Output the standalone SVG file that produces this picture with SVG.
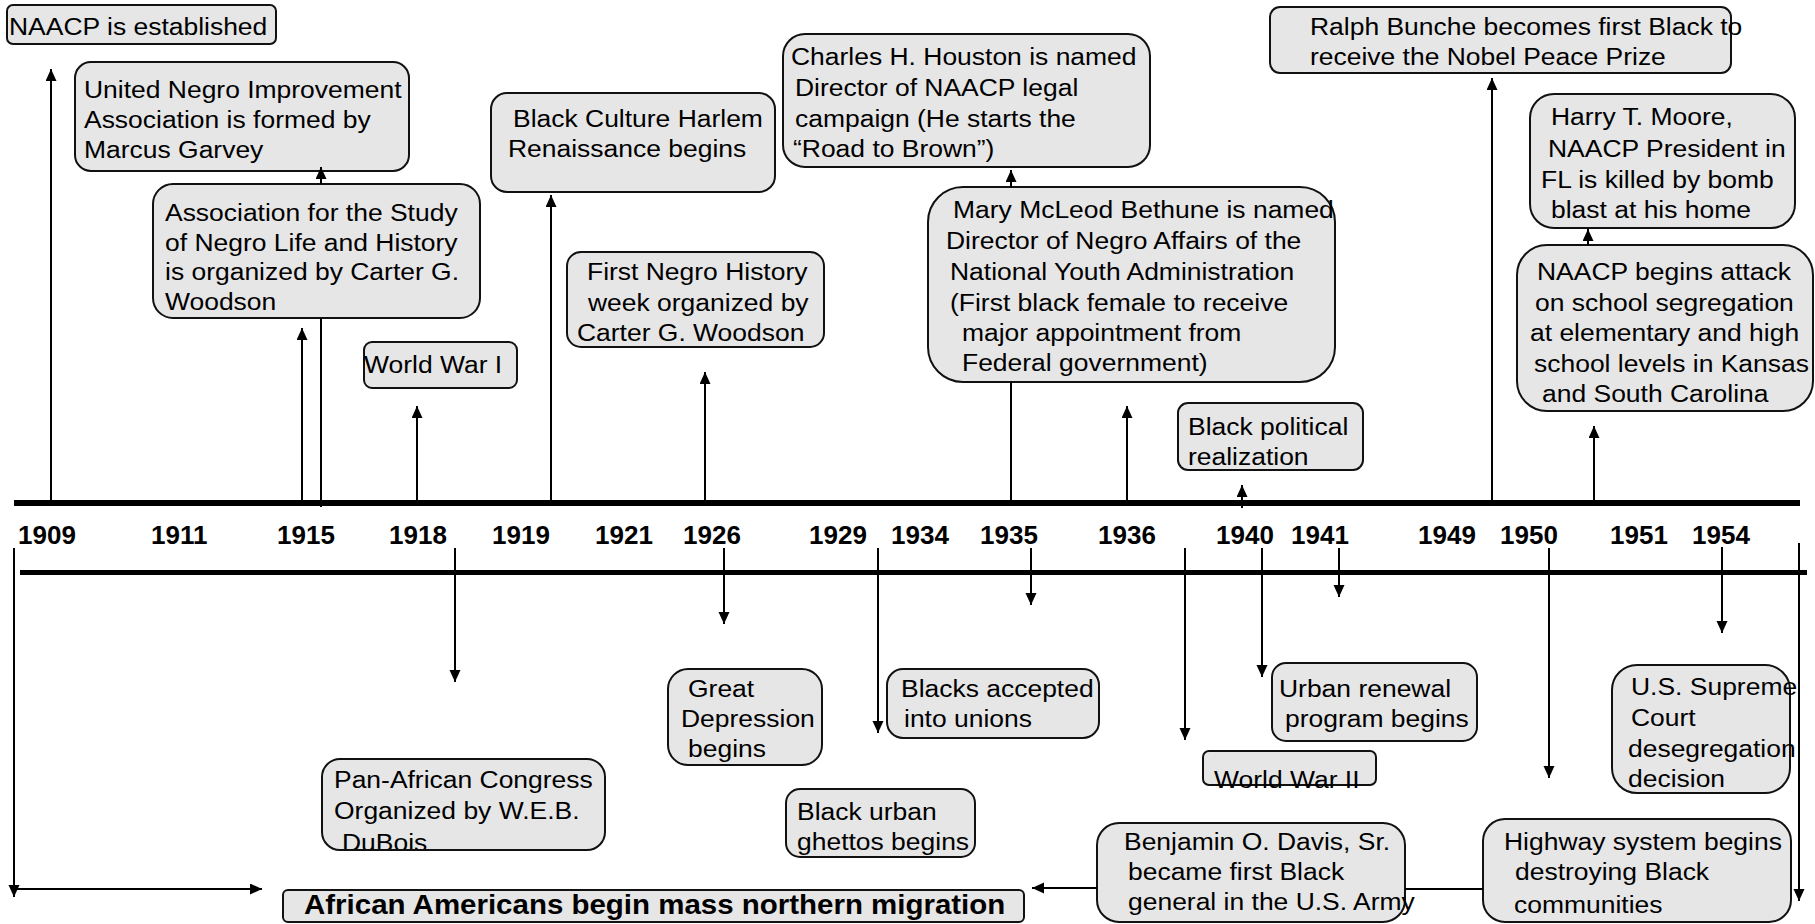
<svg xmlns="http://www.w3.org/2000/svg" width="1815" height="924" viewBox="0 0 1815 924">
<defs>
<marker id="ah" markerUnits="userSpaceOnUse" markerWidth="13" markerHeight="12" refX="12" refY="5.5" orient="auto">
<path d="M0,0 L12,5.5 L0,11 z" fill="#000"/>
</marker>
<clipPath id="clipPan"><rect x="322" y="759" width="283" height="90"/></clipPath>
<style>
.b{fill:#e6e6e6;stroke:#111;stroke-width:2}
.t{font-family:"Liberation Sans",Arial,sans-serif;font-size:24.4px;fill:#000}
.y{font-family:"Liberation Sans",Arial,sans-serif;font-size:26px;font-weight:bold;fill:#000}
.m{font-family:"Liberation Sans",Arial,sans-serif;font-size:26.8px;font-weight:bold;fill:#000}
.c{stroke:#000;stroke-width:2;fill:none}
.a{stroke:#000;stroke-width:2;fill:none;marker-end:url(#ah)}
.ax{stroke:#000;fill:none}
</style>
</defs>
<rect width="1815" height="924" fill="#fff"/>
<g id="axis">
<line class="ax" x1="14" y1="503" x2="1800" y2="503" stroke-width="6"/>
<line class="ax" x1="20" y1="572.5" x2="1807" y2="572.5" stroke-width="5"/>
<text class="y" x="18" y="544">1909</text>
<text class="y" x="151" y="544">1911</text>
<text class="y" x="277" y="544">1915</text>
<text class="y" x="389" y="544">1918</text>
<text class="y" x="492" y="544">1919</text>
<text class="y" x="595" y="544">1921</text>
<text class="y" x="683" y="544">1926</text>
<text class="y" x="809" y="544">1929</text>
<text class="y" x="891" y="544">1934</text>
<text class="y" x="980" y="544">1935</text>
<text class="y" x="1098" y="544">1936</text>
<text class="y" x="1216" y="544">1940</text>
<text class="y" x="1291" y="544">1941</text>
<text class="y" x="1418" y="544">1949</text>
<text class="y" x="1500" y="544">1950</text>
<text class="y" x="1610" y="544">1951</text>
<text class="y" x="1692" y="544">1954</text>
</g>
<g id="n-naacp"><rect class="b" x="7" y="5" width="269" height="39" rx="6"/><text class="t" transform="translate(9,35) scale(1.085,1)">NAACP is established</text></g>
<g id="n-unia"><rect class="b" x="75" y="62" width="334" height="109" rx="16"/><text class="t" transform="translate(84,98) scale(1.085,1)">United Negro Improvement</text><text class="t" transform="translate(84,128) scale(1.085,1)">Association is formed by</text><text class="t" transform="translate(84,158) scale(1.085,1)">Marcus Garvey</text></g>
<g id="n-asnlh"><rect class="b" x="153" y="184" width="327" height="134" rx="20"/><text class="t" transform="translate(165,221) scale(1.085,1)">Association for the Study</text><text class="t" transform="translate(165,251) scale(1.085,1)">of Negro Life and History</text><text class="t" transform="translate(165,280) scale(1.085,1)">is organized by Carter G.</text><text class="t" transform="translate(165,310) scale(1.085,1)">Woodson</text></g>
<g id="n-harlem"><rect class="b" x="491" y="93" width="284" height="99" rx="16"/><text class="t" transform="translate(513,127) scale(1.085,1)">Black Culture Harlem</text><text class="t" transform="translate(508,157) scale(1.085,1)">Renaissance begins</text></g>
<g id="n-history-week"><rect class="b" x="567" y="252" width="257" height="95" rx="14"/><text class="t" transform="translate(587,280) scale(1.085,1)">First Negro History</text><text class="t" transform="translate(588,311) scale(1.085,1)">week organized by</text><text class="t" transform="translate(577,341) scale(1.085,1)">Carter G. Woodson</text></g>
<g id="n-ww1"><rect class="b" x="364" y="342" width="153" height="46" rx="8"/><text class="t" transform="translate(364,373) scale(1.085,1)">World War I</text></g>
<g id="n-houston"><rect class="b" x="783" y="34" width="367" height="133" rx="22"/><text class="t" transform="translate(791,65) scale(1.085,1)">Charles H. Houston is named</text><text class="t" transform="translate(795,96) scale(1.085,1)">Director of NAACP legal</text><text class="t" transform="translate(795,127) scale(1.085,1)">campaign (He starts the</text><text class="t" transform="translate(793,157) scale(1.085,1)">“Road to Brown”)</text></g>
<g id="n-bethune"><rect class="b" x="928" y="187" width="407" height="195" rx="35"/><text class="t" transform="translate(953,218) scale(1.085,1)">Mary McLeod Bethune is named</text><text class="t" transform="translate(946,249) scale(1.085,1)">Director of Negro Affairs of the</text><text class="t" transform="translate(950,280) scale(1.085,1)">National Youth Administration</text><text class="t" transform="translate(950,311) scale(1.085,1)">(First black female to receive</text><text class="t" transform="translate(962,341) scale(1.085,1)">major appointment from</text><text class="t" transform="translate(962,371) scale(1.085,1)">Federal government)</text></g>
<g id="n-political"><rect class="b" x="1178" y="403" width="185" height="67" rx="10"/><text class="t" transform="translate(1188,435) scale(1.085,1)">Black political</text><text class="t" transform="translate(1188,465) scale(1.085,1)">realization</text></g>
<g id="n-bunche"><rect class="b" x="1270" y="7" width="461" height="66" rx="10"/><text class="t" transform="translate(1310,35) scale(1.085,1)">Ralph Bunche becomes first Black to</text><text class="t" transform="translate(1310,65) scale(1.085,1)">receive the Nobel Peace Prize</text></g>
<g id="n-moore"><rect class="b" x="1530" y="94" width="265" height="134" rx="24"/><text class="t" transform="translate(1551,125) scale(1.085,1)">Harry T. Moore,</text><text class="t" transform="translate(1548,157) scale(1.085,1)">NAACP President in</text><text class="t" transform="translate(1541,188) scale(1.085,1)">FL is killed by bomb</text><text class="t" transform="translate(1551,218) scale(1.085,1)">blast at his home</text></g>
<g id="n-school"><rect class="b" x="1517" y="245" width="296" height="166" rx="30"/><text class="t" transform="translate(1537,280) scale(1.085,1)">NAACP begins attack</text><text class="t" transform="translate(1535,311) scale(1.085,1)">on school segregation</text><text class="t" transform="translate(1530,341) scale(1.085,1)">at elementary and high</text><text class="t" transform="translate(1534,372) scale(1.085,1)">school levels in Kansas</text><text class="t" transform="translate(1542,402) scale(1.085,1)">and South Carolina</text></g>
<g id="n-depression"><rect class="b" x="668" y="669" width="154" height="96" rx="20"/><text class="t" transform="translate(688,697) scale(1.085,1)">Great</text><text class="t" transform="translate(681,727) scale(1.085,1)">Depression</text><text class="t" transform="translate(688,757) scale(1.085,1)">begins</text></g>
<g id="n-unions"><rect class="b" x="887" y="669" width="212" height="69" rx="16"/><text class="t" transform="translate(901,697) scale(1.085,1)">Blacks accepted</text><text class="t" transform="translate(904,727) scale(1.085,1)">into unions</text></g>
<g id="n-ghettos"><rect class="b" x="786" y="789" width="189" height="68" rx="14"/><text class="t" transform="translate(797,820) scale(1.085,1)">Black urban</text><text class="t" transform="translate(797,850) scale(1.085,1)">ghettos begins</text></g>
<g id="n-panafrican"><rect class="b" x="322" y="759" width="283" height="91" rx="18"/><text class="t" transform="translate(334,788) scale(1.085,1)">Pan-African Congress</text><text class="t" transform="translate(334,819) scale(1.085,1)">Organized by W.E.B.</text><g clip-path="url(#clipPan)"><text class="t" transform="translate(342,851) scale(1.085,1)">DuBois</text></g></g>
<g id="n-ww2"><rect class="b" x="1203" y="751" width="173" height="34" rx="6"/><text class="t" transform="translate(1214,788) scale(1.085,1)">World War II</text></g>
<g id="n-urban"><rect class="b" x="1272" y="663" width="205" height="78" rx="14"/><text class="t" transform="translate(1279,697) scale(1.085,1)">Urban renewal</text><text class="t" transform="translate(1285,727) scale(1.085,1)">program begins</text></g>
<g id="n-supreme"><rect class="b" x="1612" y="665" width="178" height="128" rx="25"/><text class="t" transform="translate(1631,695) scale(1.085,1)">U.S. Supreme</text><text class="t" transform="translate(1631,726) scale(1.085,1)">Court</text><text class="t" transform="translate(1628,757) scale(1.085,1)">desegregation</text><text class="t" transform="translate(1628,787) scale(1.085,1)">decision</text></g>
<g id="n-highway"><rect class="b" x="1483" y="819" width="308" height="103" rx="22"/><text class="t" transform="translate(1504,850) scale(1.085,1)">Highway system begins</text><text class="t" transform="translate(1515,880) scale(1.085,1)">destroying Black</text><text class="t" transform="translate(1514,913) scale(1.085,1)">communities</text></g>
<g id="n-davis"><rect class="b" x="1097" y="823" width="308" height="99" rx="22"/><text class="t" transform="translate(1124,850) scale(1.085,1)">Benjamin O. Davis, Sr.</text><text class="t" transform="translate(1128,880) scale(1.085,1)">became first Black</text><text class="t" transform="translate(1128,910) scale(1.085,1)">general in the U.S. Army</text></g>
<g id="n-migration"><rect class="b" x="283" y="890" width="741" height="32" rx="5"/><text class="m" transform="translate(304,914) scale(1.1,1)">African Americans begin mass northern migration</text></g>
<g id="connectors">
<line class="a" x1="51" y1="500" x2="51" y2="69"/>
<line class="a" x1="302" y1="500" x2="302" y2="328"/>
<line class="c" x1="321" y1="507" x2="321" y2="318"/>
<line class="a" x1="321" y1="184" x2="321" y2="167"/>
<line class="a" x1="417" y1="500" x2="417" y2="406"/>
<line class="a" x1="551" y1="500" x2="551" y2="195"/>
<line class="a" x1="705" y1="500" x2="705" y2="372"/>
<line class="a" x1="1011" y1="187" x2="1011" y2="170"/>
<line class="c" x1="1011" y1="500" x2="1011" y2="382"/>
<line class="a" x1="1127" y1="500" x2="1127" y2="406"/>
<line class="a" x1="1242" y1="508" x2="1242" y2="485"/>
<line class="a" x1="1492" y1="500" x2="1492" y2="78"/>
<line class="a" x1="1588" y1="245" x2="1588" y2="229"/>
<line class="a" x1="1594" y1="500" x2="1594" y2="426"/>
<line class="a" x1="14" y1="548" x2="14" y2="897"/>
<line class="a" x1="14" y1="889" x2="262" y2="889"/>
<line class="a" x1="455" y1="548" x2="455" y2="682"/>
<line class="a" x1="724" y1="548" x2="724" y2="624"/>
<line class="a" x1="878" y1="548" x2="878" y2="733"/>
<line class="a" x1="1031" y1="548" x2="1031" y2="605"/>
<line class="a" x1="1185" y1="548" x2="1185" y2="740"/>
<line class="a" x1="1262" y1="548" x2="1262" y2="677"/>
<line class="a" x1="1339" y1="548" x2="1339" y2="597"/>
<line class="a" x1="1549" y1="548" x2="1549" y2="778"/>
<line class="a" x1="1722" y1="547" x2="1722" y2="633"/>
<line class="a" x1="1799" y1="543" x2="1799" y2="901"/>
<line class="c" x1="1483" y1="889" x2="1405" y2="889"/>
<line class="a" x1="1097" y1="888" x2="1032" y2="888"/>
</g>
</svg>
